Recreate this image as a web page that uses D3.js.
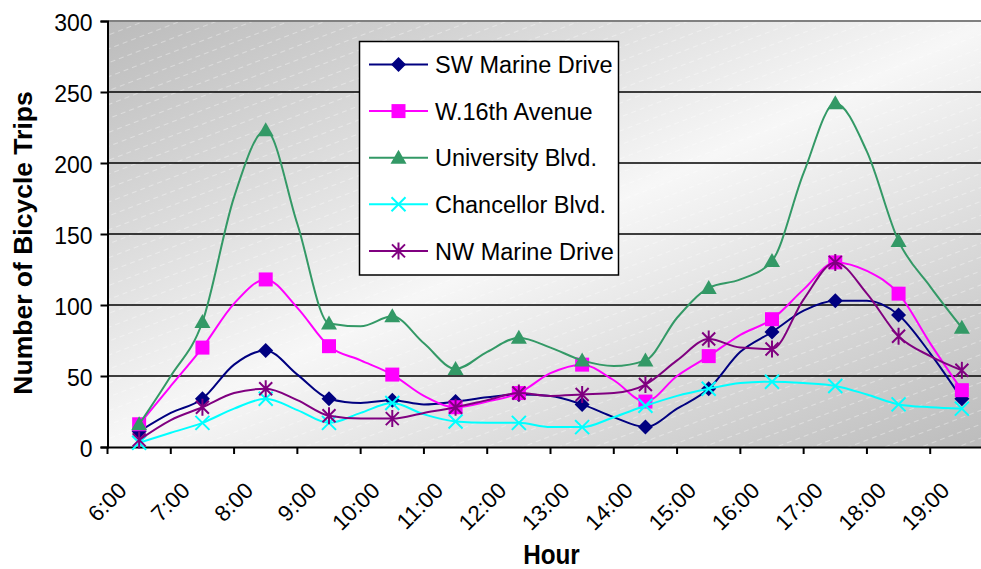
<!DOCTYPE html>
<html>
<head>
<meta charset="utf-8">
<script src="https://cdn.jsdelivr.net/npm/d3@7"></script>
<style>
  html, body { margin: 0; padding: 0; background: #fff; }
  svg { display: block; font-family: "Liberation Sans", Arial, sans-serif; }
</style>
</head>
<body>
<svg id="chart" width="981" height="569"></svg>
<script>
// ---------- data ----------
const categories = ["6:00","7:00","8:00","9:00","10:00","11:00","12:00","13:00","14:00","15:00","16:00","17:00","18:00","19:00"];
const yTicks = [0, 50, 100, 150, 200, 250, 300];

// values at each hour (marker points)
const swMarine    = [11, 34, 68, 34, 33, 32, 37, 30, 14, 41, 81, 103, 93, 34];
const w16th       = [16, 70, 118, 71, 51, 28, 38, 58, 32, 64, 90, 130, 108, 40];
const university  = [16, 88, 223, 87, 92, 55, 77, 61, 61, 112, 131, 242, 145, 84];
const chancellor  = [3, 17, 34, 17, 31, 18, 17, 14, 29, 41, 46, 43, 30, 27];
const nwMarine    = [5, 28, 41, 22, 20, 28, 38, 37, 44, 76, 69, 130, 78, 54];

// intermediate line values between consecutive hours (no markers)
const swMarineMid   = [24, 58, 51, 31, 30, 35, 36, 21, 27, 67, 96, 103, 66];
const w16thMid      = [43, 101, 98, 61, 36, 32, 52, 47, 50, 79, 111, 124, 73];
const universityMid = [50, 176, 157, 85, 73, 67, 70, 57, 91, 118, 193, 208, 113];
const chancellorMid = [10, 27, 26, 24, 23, 17, 14, 21, 36, 45, 45, 37, 28];
const nwMarineMid   = [19, 38, 33, 20, 24, 33, 36, 38, 61, 70, 104, 108, 64];

const seriesNames = ["SW Marine Drive", "W.16th Avenue", "University Blvd.", "Chancellor Blvd.", "NW Marine Drive"];
const seriesValues = [swMarine, w16th, university, chancellor, nwMarine];
const seriesMids = [swMarineMid, w16thMid, universityMid, chancellorMid, nwMarineMid];
const seriesColors = ["#000080", "#FF00FF", "#339966", "#00FFFF", "#800080"];
const seriesMarkers = ["diamond", "square", "triangle", "x", "asterisk"];

// ---------- layout ----------
const svg = d3.select("#chart");
const plot = { left: 107.5, right: 993.5, top: 21, bottom: 447 };

const x = d3.scaleBand().domain(categories).range([plot.left, plot.right]).padding(0);
const y = d3.scaleLinear().domain([0, 300]).range([plot.bottom, plot.top]);
const bw = x.bandwidth();

const defs = svg.append("defs");
const grad = defs.append("linearGradient").attr("id", "bg")
  .attr("x1", 0).attr("y1", 0).attr("x2", 1).attr("y2", 1);
grad.append("stop").attr("offset", 0).attr("stop-color", "#bbbbbb");
grad.append("stop").attr("offset", 0.5).attr("stop-color", "#f7f7f7");
grad.append("stop").attr("offset", 1).attr("stop-color", "#bbbbbb");

const pat = defs.append("pattern").attr("id", "hatch")
  .attr("patternUnits", "userSpaceOnUse").attr("width", 9).attr("height", 13)
  .attr("patternTransform", "rotate(-21)");
pat.append("line").attr("x1", 0).attr("x2", 9).attr("y1", 6.5).attr("y2", 6.5)
  .attr("stroke", "#ffffff").attr("stroke-width", 0.8).attr("stroke-dasharray", "5 4")
  .attr("opacity", 0.45);

svg.append("rect")
  .attr("x", plot.left).attr("y", plot.top)
  .attr("width", plot.right - plot.left).attr("height", plot.bottom - plot.top)
  .attr("fill", "url(#bg)");
svg.append("rect")
  .attr("x", plot.left).attr("y", plot.top)
  .attr("width", plot.right - plot.left).attr("height", plot.bottom - plot.top)
  .attr("fill", "url(#hatch)");

// gridlines
svg.append("g").selectAll("line").data(yTicks.filter(d => d > 0)).join("line")
  .attr("x1", plot.left).attr("x2", plot.right)
  .attr("y1", d => y(d)).attr("y2", d => y(d))
  .attr("stroke", d => d === 300 ? "#808080" : "#000")
  .attr("stroke-width", d => d === 300 ? 2 : 1.5);

// y axis
const yAxis = svg.append("g")
  .attr("transform", `translate(${plot.left},0)`)
  .call(d3.axisLeft(y).tickValues(yTicks).tickSize(7).tickPadding(8));
yAxis.select(".domain").attr("stroke", "#000").attr("stroke-width", 2);
yAxis.selectAll(".tick line").attr("stroke", "#000").attr("stroke-width", 2);
yAxis.selectAll(".tick text")
  .attr("font-size", 23).attr("fill", "#000")
  .attr("font-family", "'Liberation Sans', Arial, sans-serif")
  .attr("dy", "0.42em");

// x axis
const xAxis = svg.append("g")
  .attr("transform", `translate(0,${plot.bottom})`)
  .call(d3.axisBottom(x).tickSize(0).tickFormat(""));
xAxis.select(".domain").attr("stroke", "#000").attr("stroke-width", 2);
xAxis.selectAll(".tick").remove();
// tick marks at category boundaries
svg.append("g").selectAll("line").data(categories).join("line")
  .attr("x1", d => x(d)).attr("x2", d => x(d))
  .attr("y1", plot.bottom).attr("y2", plot.bottom + 7)
  .attr("stroke", "#000").attr("stroke-width", 2);
// rotated labels
svg.append("g").selectAll("text").data(categories).join("text")
  .attr("transform", d => `translate(${x(d) + bw / 2 - 11},${plot.bottom + 45}) rotate(-45)`)
  .attr("text-anchor", "end")
  .attr("font-size", 22.5)
  .attr("fill", "#000")
  .text(d => d);

// axis titles
svg.append("text")
  .attr("transform", `translate(32,243) rotate(-90)`)
  .attr("text-anchor", "middle")
  .attr("font-size", 26.5).attr("font-weight", "bold")
  .text("Number of Bicycle Trips");
svg.append("text")
  .attr("transform", `translate(${(plot.left + plot.right) / 2 + 1},564) scale(0.9,1)`)
  .attr("text-anchor", "middle")
  .attr("font-size", 27).attr("font-weight", "bold")
  .text("Hour");

// ---------- markers ----------
function markerPath(type) {
  switch (type) {
    case "diamond": return "M0,-7.5L7.5,0L0,7.5L-7.5,0Z";
    case "square": return "M-7,-7L7,-7L7,7L-7,7Z";
    case "triangle": return "M0,-8L8,6L-8,6Z";
    case "x": return "M-7,-7L7,7M-7,7L7,-7";
    case "asterisk": return "M-6.5,-6.5L6.5,6.5M-6.5,6.5L6.5,-6.5M0,-8.5L0,8.5";
  }
}
function drawMarker(g, type, color) {
  const filled = type === "diamond" || type === "square" || type === "triangle";
  g.append("path").attr("d", markerPath(type))
    .attr("fill", filled ? color : "none")
    .attr("stroke", color)
    .attr("stroke-width", filled ? 0 : 2);
}

// ---------- series ----------
const line = d3.line().x(d => d.x).y(d => y(d.v)).curve(d3.curveMonotoneX);

seriesNames.forEach((name, si) => {
  const vals = seriesValues[si];
  const mids = seriesMids[si];
  const pts = [];
  categories.forEach((c, i) => {
    pts.push({ x: x(c) + bw / 2, v: vals[i] });
    if (i < mids.length) pts.push({ x: x(c) + bw, v: mids[i] });
  });
  const g = svg.append("g");
  g.append("path").attr("d", line(pts))
    .attr("fill", "none").attr("stroke", seriesColors[si]).attr("stroke-width", 2)
    .attr("stroke-linejoin", "round");
  categories.forEach((c, i) => {
    const mg = g.append("g").attr("transform", `translate(${x(c) + bw / 2},${y(vals[i])})`);
    drawMarker(mg, seriesMarkers[si], seriesColors[si]);
  });
});

// ---------- legend ----------
const lg = svg.append("g");
lg.append("rect").attr("x", 359.5).attr("y", 41.5).attr("width", 259).attr("height", 233.5)
  .attr("fill", "#fff").attr("stroke", "#000").attr("stroke-width", 1.5);
seriesNames.forEach((name, i) => {
  const ry = 64.5 + i * 46.6;
  lg.append("line").attr("x1", 369).attr("x2", 428).attr("y1", ry).attr("y2", ry)
    .attr("stroke", seriesColors[i]).attr("stroke-width", 2);
  const mg = lg.append("g").attr("transform", `translate(398.5,${ry})`);
  drawMarker(mg, seriesMarkers[i], seriesColors[i]);
  lg.append("text").attr("x", 435).attr("y", ry).attr("dy", "0.37em")
    .attr("font-size", 23.5).attr("fill", "#000").text(name);
});
</script>
</body>
</html>
